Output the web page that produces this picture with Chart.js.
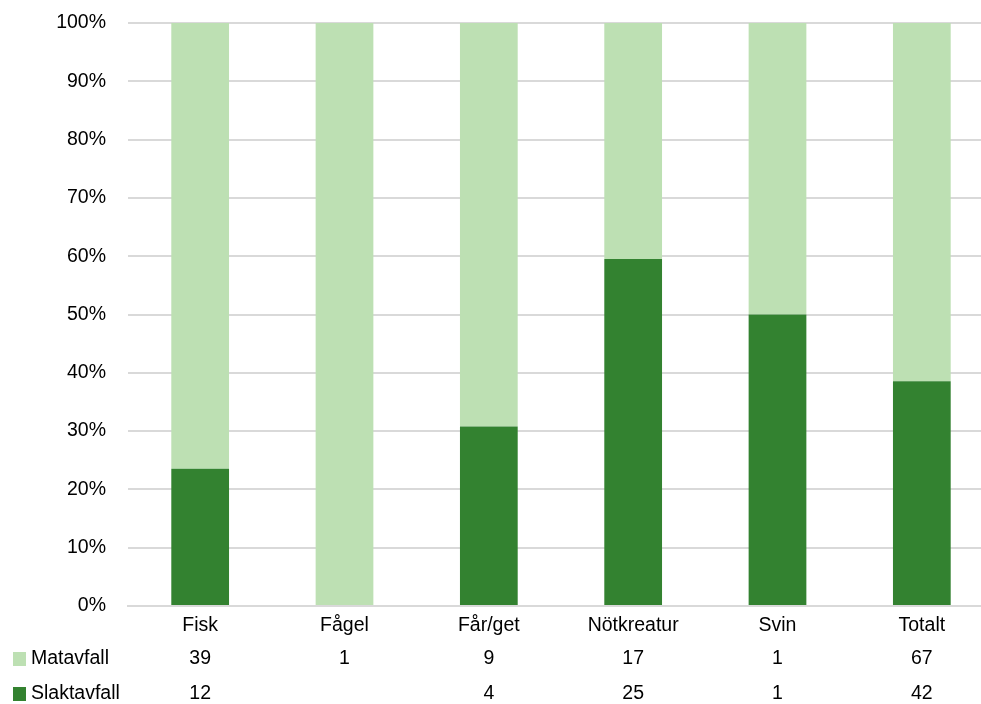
<!DOCTYPE html>
<html>
<head>
<meta charset="utf-8">
<script src="https://cdn.jsdelivr.net/npm/chart.js@4.4.1/dist/chart.umd.min.js"></script>
<style>
  html, body { margin: 0; padding: 0; background: #fff; overflow: hidden; }
  #wrap { width: 995px; height: 704px; position: relative; }
</style>
</head>
<body>
<div id="wrap"><canvas id="chart"></canvas></div>
<script>
const categories = ['Fisk', 'Fågel', 'Får/get', 'Nötkreatur', 'Svin', 'Totalt'];
const matavfall = [39, 1, 9, 17, 1, 67];
const slaktavfall = [12, null, 4, 25, 1, 42];
const yTicks = [0, 10, 20, 30, 40, 50, 60, 70, 80, 90, 100];

const LIGHT = '#bde0b3';
const DARK = '#338230';
const FONT = '"Liberation Sans", Arial, sans-serif';
const FONT_SIZE = 19.5;

// share of each category's total, in percent
const share = (part, other) => categories.map((_, i) => {
    const a = part[i] ?? 0;
    const b = other[i] ?? 0;
    return a + b === 0 ? 0 : (a / (a + b)) * 100;
});

const tablePlugin = {
    id: 'dataTable',
    afterDraw: (chart) => {
        const { ctx, scales: { x } } = chart;
        const rows = [
            { label: 'Matavfall', color: LIGHT, values: matavfall, y: 659 },
            { label: 'Slaktavfall', color: DARK, values: slaktavfall, y: 694 },
        ];
        ctx.save();
        ctx.font = `${FONT_SIZE}px ${FONT}`;
        ctx.textBaseline = 'middle';
        rows.forEach((row) => {
            ctx.fillStyle = row.color;
            ctx.fillRect(13, row.y - 7, 13, 14);
            ctx.fillStyle = '#000';
            ctx.textAlign = 'left';
            ctx.fillText(row.label, 31, row.y);
            ctx.textAlign = 'center';
            row.values.forEach((v, i) => {
                if (v === null) return;
                ctx.fillText(String(v), x.getPixelForValue(i), row.y);
            });
        });
        ctx.restore();
    },
};

new Chart(document.getElementById('chart'), {
    type: 'bar',
    data: {
        labels: categories,
        datasets: [
            {
                label: 'Slaktavfall',
                data: share(slaktavfall, matavfall),
                backgroundColor: DARK,
                barPercentage: 0.4,
                categoryPercentage: 1,
            },
            {
                label: 'Matavfall',
                data: share(matavfall, slaktavfall),
                backgroundColor: LIGHT,
                barPercentage: 0.4,
                categoryPercentage: 1,
            },
        ],
    },
    options: {
        responsive: true,
        maintainAspectRatio: false,
        animation: false,
        layout: { padding: { top: 23, right: 1, left: 0, bottom: 0 } },
        scales: {
            x: {
                stacked: true,
                afterFit: (scale) => { scale.height = 98; },
                ticks: { color: '#000', font: { family: FONT, size: FONT_SIZE }, padding: 8 },
                grid: { display: false, drawTicks: false },
                border: { color: '#d9d9d9', width: 2 },
            },
            y: {
                stacked: true,
                min: 0,
                max: 100,
                afterFit: (scale) => {
                    scale.width = 128;
                    scale.paddingTop = 0;
                    scale.paddingBottom = 0;
                },
                afterBuildTicks: (scale) => { scale.ticks = yTicks.map((v) => ({ value: v })); },
                ticks: {
                    color: '#000',
                    font: { family: FONT, size: FONT_SIZE },
                    padding: 22,
                    callback: (v) => `${v}%`,
                },
                grid: { color: '#d9d9d9', lineWidth: 2, drawTicks: false },
                border: { display: false },
            },
        },
        plugins: {
            legend: { display: false },
            tooltip: { enabled: false },
        },
    },
    plugins: [tablePlugin],
});
</script>
</body>
</html>
